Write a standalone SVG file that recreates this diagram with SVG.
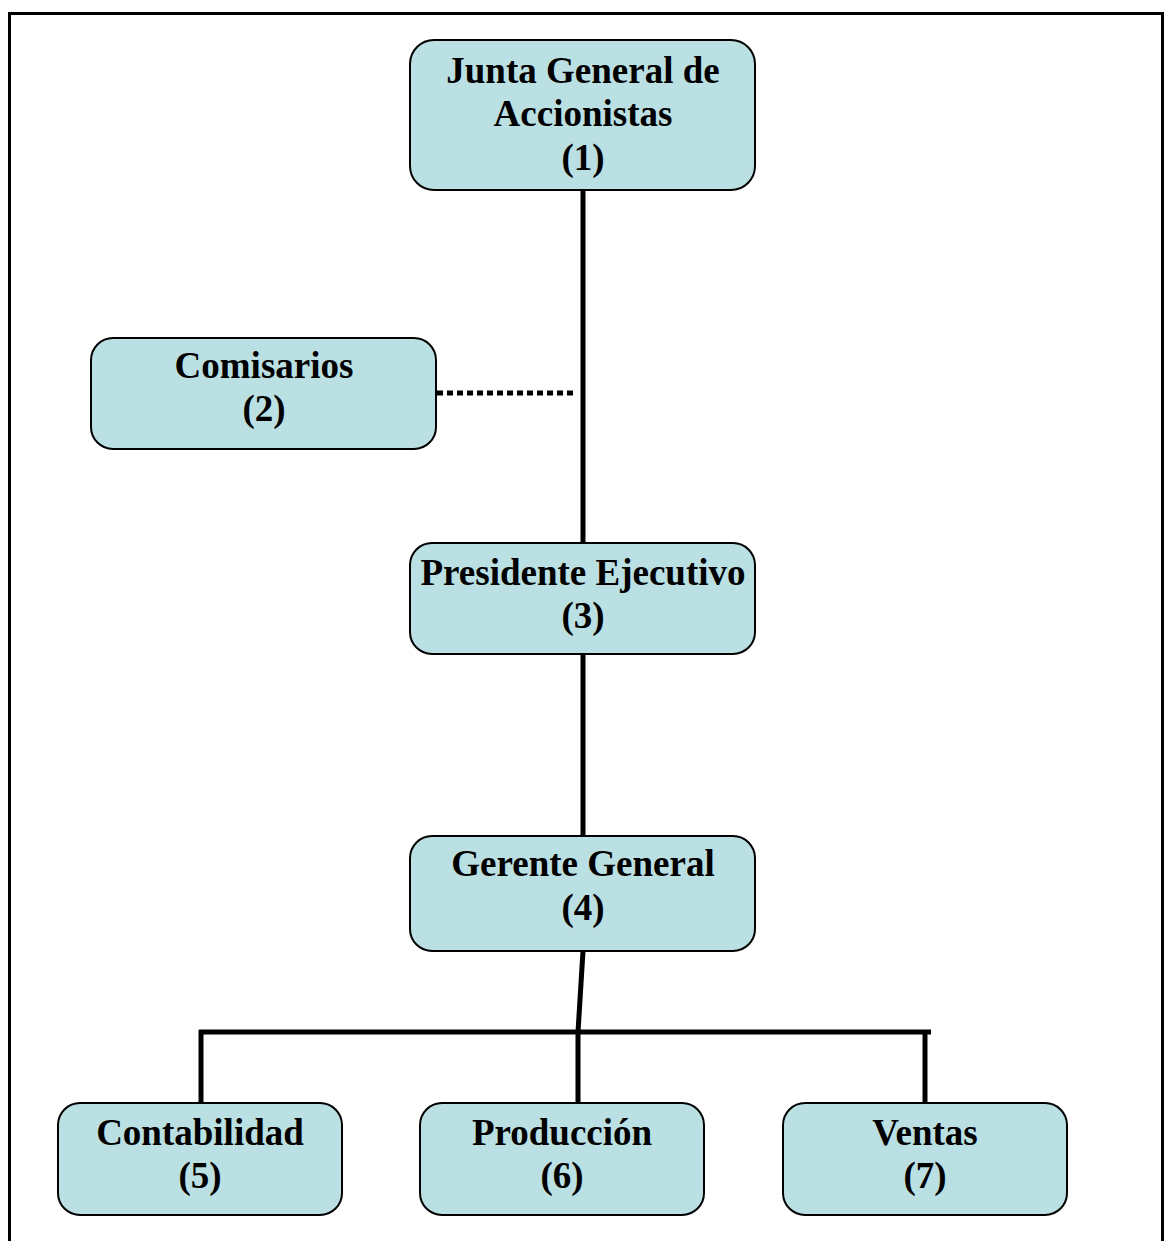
<svg xmlns="http://www.w3.org/2000/svg" width="1171" height="1241" viewBox="0 0 1171 1241">
<style>
.box{fill:#bae0e3;stroke:#000;stroke-width:2}
.t{font-family:"Liberation Serif","Times New Roman",serif;font-weight:bold;font-size:37px;text-anchor:middle;fill:#000}
.ln{stroke:#000;stroke-width:5;fill:none}
.dot{stroke:#000;stroke-width:5;fill:none;stroke-dasharray:6 4}
</style>
<rect x="9.5" y="13.5" width="1153" height="1250" fill="#fff" stroke="#000" stroke-width="3"/>
<g id="connectors">
<line class="ln" x1="583" y1="190" x2="583" y2="543"/>
<line class="dot" x1="437" y1="393" x2="577" y2="393"/>
<line class="ln" x1="583" y1="654" x2="583" y2="836"/>
<polyline class="ln" points="583,951 578,1032 578,1110"/>
<line class="ln" x1="199" y1="1032" x2="931" y2="1032"/>
<line class="ln" x1="201" y1="1030" x2="201" y2="1103"/>
<line class="ln" x1="925" y1="1030" x2="925" y2="1103"/>
</g>
<g id="n1"><rect class="box" x="410" y="40" width="345" height="150" rx="24"/>
<text class="t" x="583" y="83">Junta General de</text><text class="t" x="583" y="126">Accionistas</text><text class="t" x="583" y="170">(1)</text></g>
<g id="n2"><rect class="box" x="91" y="338" width="345" height="111" rx="22"/>
<text class="t" x="264" y="378">Comisarios</text><text class="t" x="264" y="421">(2)</text></g>
<g id="n3"><rect class="box" x="410" y="543" width="345" height="111" rx="22"/>
<text class="t" x="583" y="585">Presidente Ejecutivo</text><text class="t" x="583" y="628">(3)</text></g>
<g id="n4"><rect class="box" x="410" y="836" width="345" height="115" rx="22"/>
<text class="t" x="583" y="876">Gerente General</text><text class="t" x="583" y="920">(4)</text></g>
<g id="n5"><rect class="box" x="58" y="1103" width="284" height="112" rx="22"/>
<text class="t" x="200" y="1145">Contabilidad</text><text class="t" x="200" y="1188">(5)</text></g>
<g id="n6"><rect class="box" x="420" y="1103" width="284" height="112" rx="22"/>
<text class="t" x="562" y="1145">Producción</text><text class="t" x="562" y="1188">(6)</text></g>
<g id="n7"><rect class="box" x="783" y="1103" width="284" height="112" rx="22"/>
<text class="t" x="925" y="1145">Ventas</text><text class="t" x="925" y="1188">(7)</text></g>
</svg>
